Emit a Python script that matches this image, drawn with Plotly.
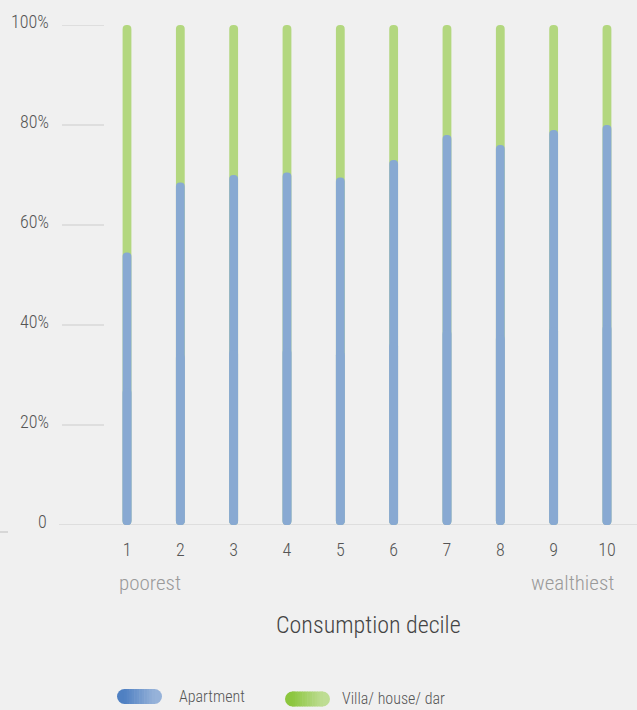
import plotly.graph_objects as go

deciles = [1, 2, 3, 4, 5, 6, 7, 8, 9, 10]
decile_labels = ["1", "2", "3", "4", "5", "6", "7", "8", "9", "10"]
apartment = [54.5, 68.5, 70, 70.5, 69.5, 73, 78, 76, 79, 80]
villa = [45.5, 31.5, 30, 29.5, 30.5, 27, 22, 24, 21, 20]
y_ticks = [0, 20, 40, 60, 80, 100]
y_tick_labels = ["0", "20%", "40%", "60%", "80%", "100%"]

FONT = "Roboto Condensed, Liberation Sans Narrow, sans-serif"
BG = "#f0f0f0"
BLUE = "#88a9d2"
GREEN = "#b3d77f"

W, H = 637, 710
L, R, T, B = 59, 0, 25, 185
PW, PH = W - L - R, H - T - B


def px(x):
    return (x - L) / PW


def py(y):
    return (H - B - y) / PH


bw = 0.165
totals = [a + v for a, v in zip(apartment, villa)]
half = [a / 2 for a in apartment]

fig = go.Figure()
fig.add_trace(go.Bar(x=deciles, y=totals, base=[0] * len(deciles), width=bw,
                     marker=dict(color=GREEN, line=dict(width=0)),
                     name="Villa/ house/ dar", showlegend=False, hoverinfo="skip"))
fig.add_trace(go.Bar(x=deciles, y=apartment, base=[0] * len(deciles), width=bw,
                     marker=dict(color=BLUE, line=dict(width=0)),
                     name="Apartment", showlegend=False, hoverinfo="skip"))
# lower half drawn downward so that the bottom end gets rounded too
fig.add_trace(go.Bar(x=deciles, y=[-h for h in half], base=half, width=bw,
                     marker=dict(color=BLUE, line=dict(width=0)),
                     name="Apartment", showlegend=False, hoverinfo="skip"))

shapes = []
for t in y_ticks[1:]:
    shapes.append(dict(type="line", xref="paper", yref="y", x0=px(62), x1=px(104),
                       y0=t, y1=t, line=dict(color="#d9d9d9", width=1.5), layer="below"))
shapes.append(dict(type="line", xref="paper", yref="y", x0=0, x1=1, y0=0, y1=0,
                   line=dict(color="#d9d9d9", width=1.5), layer="below"))
shapes.append(dict(type="line", xref="paper", yref="paper", x0=px(0), x1=px(8),
                   y0=py(532), y1=py(532), line=dict(color="#cfcfcf", width=1.5)))


def hexrgb(h):
    h = h.lstrip("#")
    return tuple(int(h[i:i + 2], 16) for i in (0, 2, 4))


def pill(x0, x1, yc, h, c0, c1, n=12):
    r = h / 2
    a, b = hexrgb(c0), hexrgb(c1)
    out = [
        dict(type="circle", xref="paper", yref="paper", x0=px(x0), x1=px(x0 + h),
             y0=py(yc + r), y1=py(yc - r), fillcolor=c0, line=dict(width=0)),
        dict(type="circle", xref="paper", yref="paper", x0=px(x1 - h), x1=px(x1),
             y0=py(yc + r), y1=py(yc - r), fillcolor=c1, line=dict(width=0)),
    ]
    sx0, sx1 = x0 + r, x1 - r
    step = (sx1 - sx0) / n
    for i in range(n):
        f = (i + 0.5) / n
        col = "rgb(%d,%d,%d)" % tuple(round(a[k] + (b[k] - a[k]) * f) for k in range(3))
        out.append(dict(type="rect", xref="paper", yref="paper",
                        x0=px(sx0 + i * step - 0.3), x1=px(sx0 + (i + 1) * step + 0.3),
                        y0=py(yc + r), y1=py(yc - r), fillcolor=col, line=dict(width=0)))
    return out


shapes += pill(117, 162, 696.5, 15, "#4f80c2", "#96b2d9")
shapes += pill(285, 330, 699, 15, "#8cc63e", "#bedd94")

annotations = [
    dict(text="poorest", x=px(150), y=py(583), xref="paper", yref="paper", showarrow=False,
         font=dict(family=FONT, size=21, color="#9a9a9a", weight=300),
         xanchor="center", yanchor="middle"),
    dict(text="wealthiest", x=px(572), y=py(583), xref="paper", yref="paper", showarrow=False,
         font=dict(family=FONT, size=21, color="#9a9a9a", weight=300),
         xanchor="center", yanchor="middle"),
    dict(text="Consumption decile", x=px(368), y=py(625), xref="paper", yref="paper",
         showarrow=False, font=dict(family=FONT, size=24, color="#444444", weight=300),
         xanchor="center", yanchor="middle"),
    dict(text="Apartment", x=px(177), y=py(696), xref="paper", yref="paper", showarrow=False,
         font=dict(family=FONT, size=16, color="#555555", weight=300),
         xanchor="left", yanchor="middle"),
    dict(text="Villa/ house/ dar", x=px(340), y=py(699), xref="paper", yref="paper",
         showarrow=False, font=dict(family=FONT, size=16, color="#555555", weight=300),
         xanchor="left", yanchor="middle"),
]
# y tick labels, sitting slightly above their gridlines
for t, lab in zip(y_ticks, y_tick_labels):
    annotations.append(dict(text=lab, x=px(51 if t else 49), y=t, xref="paper", yref="y",
                            showarrow=False, xanchor="right", yanchor="middle", yshift=4,
                            font=dict(family=FONT, size=18, color="#555555", weight=300)))

fig.update_layout(
    width=W, height=H,
    margin=dict(l=L, r=R, t=T, b=B),
    paper_bgcolor=BG, plot_bgcolor=BG,
    barmode="overlay",
    barcornerradius=5,
    showlegend=False,
    shapes=shapes,
    annotations=annotations,
    xaxis=dict(range=[-0.275, 10.563], tickmode="array", tickvals=deciles, ticktext=decile_labels,
               showgrid=False, zeroline=False, showline=False, ticks="",
               tickfont=dict(family=FONT, size=18, color="#555555", weight=300),
               ticklabelstandoff=12, fixedrange=True),
    yaxis=dict(range=[0, 100], tickmode="array", tickvals=y_ticks, showticklabels=False,
               showgrid=False, zeroline=False, showline=False, ticks="", fixedrange=True),
)

fig.write_html("out.html", config={"displayModeBar": False},
               post_script="document.body.style.margin='0';document.body.style.background='#f0f0f0';")
